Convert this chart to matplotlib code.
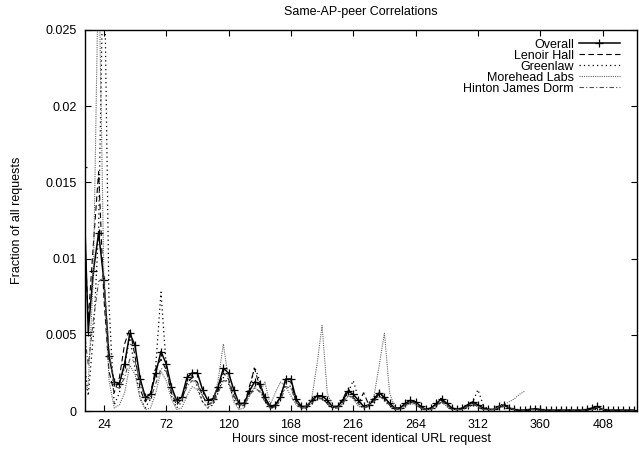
import numpy as np
import matplotlib
matplotlib.use('Agg')
from matplotlib import pyplot as plt
from matplotlib.ticker import FormatStrFormatter

plt.rcParams['font.family'] = ['Liberation Sans', 'DejaVu Sans']
plt.rcParams['font.size'] = 9

# 4-hour bins, 8h .. 432h
hours = list(range(8, 433, 4))

overall = [
    0.0160, 0.0052, 0.0092, 0.0117, 0.0086, 0.0036, 0.0019, 0.0018, 0.0031, 0.0051, 0.0043, 0.0021,
    0.0009, 0.0011, 0.0025, 0.0039, 0.0031, 0.0016, 0.0007, 0.0009, 0.0022, 0.0025, 0.0025, 0.0014,
    0.0007, 0.0008, 0.0016, 0.0028, 0.0025, 0.0014, 0.0005, 0.0005, 0.0013, 0.0019, 0.0018, 0.0009,
    0.0003, 0.0004, 0.0009, 0.0021, 0.0021, 0.0008, 0.0003, 0.0003, 0.0007, 0.0010, 0.0010, 0.0007,
    0.0003, 0.0003, 0.0007, 0.0013, 0.0011, 0.0007, 0.0003, 0.0004, 0.0008, 0.0012, 0.0009, 0.0005,
    0.0002, 0.0002, 0.0005, 0.0007, 0.0006, 0.0003, 0.0001, 0.0002, 0.0005, 0.0008, 0.0005, 0.0002,
    0.0001, 0.0002, 0.0004, 0.0006, 0.0004, 0.0002, 0.0001, 0.0001, 0.0003, 0.0004, 0.0002, 0.0001,
    0.00005, 0.00005, 0.0001, 0.00015, 0.0001, 0.00005, 0.00005, 0.00005, 0.00005, 0.00005, 0.00005, 0.00005,
    0.00005, 0.0001, 0.0002, 0.0003, 0.0001, 0.00005, 0.00005, 0.00005, 0.00005, 0.00005, 0.00005,
]

lenoir = [
    0.0140, 0.0060, 0.0110, 0.0157, 0.0075, 0.0026, 0.0012, 0.0022, 0.0044, 0.0054, 0.0036, 0.0014,
    0.0006, 0.0012, 0.0028, 0.0034, 0.0027, 0.0012, 0.0004, 0.0008, 0.0018, 0.0022, 0.0019, 0.0010,
    0.0004, 0.0006, 0.0014, 0.0025, 0.0021, 0.0010, 0.0004, 0.0004, 0.0016, 0.0028, 0.0016, 0.0007,
    0.0002, 0.0003, 0.0010, 0.0020, 0.0019, 0.0006, 0.0002, 0.0002, 0.0006, 0.0009, 0.0008, 0.0005,
    0.0002, 0.0003, 0.0008, 0.0015, 0.0009, 0.0005, 0.0012, 0.0004, 0.0007, 0.0011, 0.0008, 0.0004,
    0.0001, 0.0002, 0.0004, 0.0006, 0.0005, 0.0002, 0.0001, 0.0002, 0.0004, 0.0007, 0.0004, 0.0002,
    0.0001, 0.0001, 0.0003, 0.0005, 0.0003, 0.0001, 0.0001, 0.0001, 0.0002, 0.0004, 0.0002, 0.0001,
    0.00005, 0.00005, 0.0001, 0.0001, 0.00005, 0.00005, 0.00005, 0.00005, 0.00005, 0.00005, 0.00005, 0.00005,
    0.00005, 0.00005, 0.0001, 0.0002, 0.0001, 0.00005, 0.00005, 0.00005, 0.00005, 0.00005, 0.00005,
]

greenlaw = [
    0.0040, 0.0010, 0.0050, 0.0120, 0.0320, 0.0070, 0.0004, 0.0012, 0.0030, 0.0048, 0.0028, 0.0008,
    0.0002, 0.0008, 0.0030, 0.0078, 0.0030, 0.0010, 0.0002, 0.0006, 0.0018, 0.0024, 0.0016, 0.0006,
    0.0002, 0.0004, 0.0012, 0.0022, 0.0018, 0.0008, 0.0002, 0.0004, 0.0012, 0.0029, 0.0020, 0.0006,
    0.0002, 0.0002, 0.0008, 0.0018, 0.0016, 0.0006, 0.0002, 0.0002, 0.0006, 0.0010, 0.0009, 0.0005,
    0.0002, 0.0002, 0.0006, 0.0012, 0.0020, 0.0008, 0.0002, 0.0003, 0.0007, 0.0013, 0.0008, 0.0004,
    0.0001, 0.0001, 0.0004, 0.0006, 0.0005, 0.0002, 0.0001, 0.0002, 0.0004, 0.0009, 0.0004, 0.0001,
    0.0001, 0.0001, 0.0003, 0.0006, 0.0014, 0.0004, 0.0001, 0.0001, 0.0003, 0.0005, 0.0002, 0.0001,
    0.00005, 0.00005, 0.0001, 0.0001, 0.00005, 0.00005, 0.00005, 0.00005, 0.00005, 0.00005, 0.00005, 0.00005,
    0.00005, 0.00005, 0.0001, 0.0001, 0.00005, 0.00005, 0.00005, 0.00005, 0.00005, 0.00005, 0.00005,
]

nan = float('nan')
morehead = [
    0.0010, 0.0017, 0.0090, 0.0300, 0.0090, 0.0020, 0.0002, 0.0004, 0.0012, 0.0030, 0.0024, 0.0008,
    0.0001, 0.0002, 0.0012, 0.0026, 0.0020, 0.0008, 0.0001, 0.0002, 0.0010, 0.0016, 0.0014, 0.0006,
    0.0002, 0.0006, 0.0020, 0.0044, 0.0020, 0.0006, 0.0001, 0.0002, 0.0010, 0.0016, 0.0012, 0.0019,
    0.0004, 0.0012, 0.0019, 0.0016, 0.0010, 0.0004, 0.0002, 0.0003, 0.0008, 0.0030, 0.0056, 0.0012,
    0.0003, 0.0002, 0.0005, 0.0010, 0.0008, 0.0003, 0.0002, 0.0004, 0.0010, 0.0030, 0.0051, 0.0012,
    0.0002, 0.0001, 0.0003, 0.0005, 0.0004, 0.0002, 0.0001, 0.0001, 0.0003, 0.0006, 0.0003, 0.0001,
    0.0001, 0.0001, 0.0002, 0.0004, 0.0003, 0.0001, 0.0001, 0.0001, 0.0003, 0.0004, 0.0006, 0.0008,
    0.0011, 0.0013, nan, nan, nan, nan, nan, nan, nan, nan, nan, nan,
    nan, nan, nan, nan, nan, nan, nan, nan, nan, nan, nan,
]

hinton = [
    0.0060, 0.0030, 0.0060, 0.0085, 0.0088, 0.0040, 0.0016, 0.0015, 0.0022, 0.0034, 0.0033, 0.0018,
    0.0008, 0.0008, 0.0018, 0.0028, 0.0026, 0.0014, 0.0006, 0.0007, 0.0016, 0.0020, 0.0018, 0.0010,
    0.0005, 0.0005, 0.0012, 0.0020, 0.0019, 0.0010, 0.0004, 0.0004, 0.0010, 0.0015, 0.0013, 0.0006,
    0.0002, 0.0003, 0.0007, 0.0016, 0.0015, 0.0006, 0.0002, 0.0002, 0.0005, 0.0008, 0.0008, 0.0005,
    0.0002, 0.0002, 0.0005, 0.0010, 0.0009, 0.0005, 0.0002, 0.0003, 0.0006, 0.0010, 0.0007, 0.0004,
    0.0001, 0.0001, 0.0004, 0.0006, 0.0005, 0.0002, 0.0001, 0.0001, 0.0004, 0.0006, 0.0004, 0.0001,
    0.0001, 0.0001, 0.0003, 0.0005, 0.0003, 0.0001, 0.0001, 0.0001, 0.0002, 0.0003, 0.0002, 0.0001,
    0.00005, 0.00005, 0.0001, 0.0001, 0.00005, 0.00005, 0.00005, 0.00005, 0.00005, 0.00005, 0.00005, 0.00005,
    0.00005, 0.00005, 0.0001, 0.0002, 0.0001, 0.00005, 0.00005, 0.00005, 0.00005, 0.00005, 0.00005,
]

xticks = [24, 72, 120, 168, 216, 264, 312, 360, 408]
yticks = [0, 0.005, 0.01, 0.015, 0.02, 0.025]

fig = plt.figure(figsize=(6.39, 4.53), dpi=100)
ax = fig.add_axes([0.133, 0.0927, 0.864, 0.8411])

ax.plot(hours, overall, color='black', lw=1.1, marker='+', ms=6, mew=0.9, label='Overall')
ax.plot(hours, lenoir, color='black', lw=0.8, dashes=(5, 3), label='Lenoir Hall')
ax.plot(hours, greenlaw, color='black', lw=0.9, dashes=(1, 2.5), label='Greenlaw')
ax.plot(hours, morehead, color='0.4', lw=0.8, dashes=(1, 1), label='Morehead Labs')
ax.plot(hours, hinton, color='0.3', lw=0.8, dashes=(4, 2, 1, 2), label='Hinton James Dorm')

ax.set_xlim(9.5, 434.5)
ax.set_ylim(0, 0.025)
ax.set_xticks(xticks)
ax.set_yticks(yticks)
ax.yaxis.set_major_formatter(FormatStrFormatter('%g'))
ax.tick_params(direction='in', length=4, width=0.8, top=True, right=True, pad=6)
for s in ax.spines.values():
    s.set_linewidth(1.0)

ax.set_title('Same-AP-peer Correlations', fontsize=9, pad=11)
ax.set_xlabel('Hours since most-recent identical URL request')
ax.set_ylabel('Fraction of all requests')
ax.xaxis.set_label_coords(0.5, -0.058)
ax.yaxis.set_label_coords(-0.112, 0.5)

ax.legend(loc='upper right', bbox_to_anchor=(0.985, 1.0), frameon=False, markerfirst=False,
          handlelength=3.3, handletextpad=0.4, labelspacing=-0.08, borderpad=0.2)

plt.savefig('out.png', dpi=100)
